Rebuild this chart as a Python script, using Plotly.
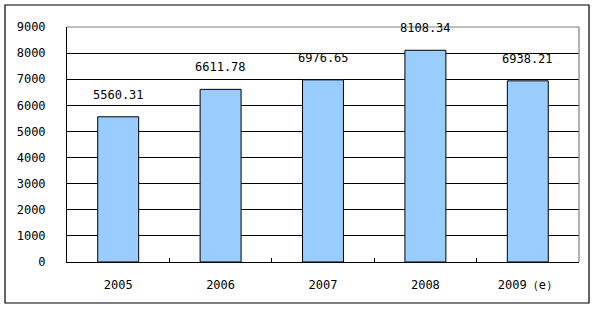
import plotly.graph_objects as go

categories = ["2005", "2006", "2007", "2008", "2009（e）"]
values = [5560.31, 6611.78, 6976.65, 8108.34, 6938.21]
labels = ["5560.31", "6611.78", "6976.65", "8108.34", "6938.21"]
y_ticks = [0, 1000, 2000, 3000, 4000, 5000, 6000, 7000, 8000, 9000]

FONT = "DejaVu Sans Mono"

fig = go.Figure()
fig.add_trace(go.Bar(
    x=categories, y=values,
    marker=dict(color="#99CCFF", line=dict(color="black", width=1)),
    width=0.4,
))

for i, (v, t) in enumerate(zip(values, labels)):
    fig.add_annotation(x=i, y=v, text=t, showarrow=False, yanchor="middle",
                       yshift=22, font=dict(family=FONT, size=12, color="black"))

L, R, T, B = 67, 17, 27, 47
W, H = 596, 309
pw, ph = W - L - R, H - T - B
# outer border
fig.add_shape(type="rect", xref="paper", yref="paper",
              x0=(5 - L) / pw, x1=(589 - L) / pw,
              y0=(H - B - 303) / ph, y1=(H - B - 5) / ph,
              line=dict(color="black", width=1.2), layer="below")
# plot area top and right edges (gray)
fig.add_shape(type="line", xref="paper", yref="paper", x0=0, x1=1, y0=1, y1=1,
              line=dict(color="#808080", width=1.2), layer="above")
fig.add_shape(type="line", xref="paper", yref="paper", x0=1, x1=1, y0=0, y1=1,
              line=dict(color="#808080", width=1.2), layer="above")

fig.update_layout(
    width=W, height=H,
    margin=dict(l=L, r=R, t=T, b=B, pad=0),
    paper_bgcolor="white", plot_bgcolor="white",
    showlegend=False,
    font=dict(family=FONT, size=12, color="black"),
    xaxis=dict(type="category", categoryorder="array", categoryarray=categories,
               range=[-0.5, len(categories) - 0.5],
               showline=True, linecolor="black", linewidth=1,
               ticks="inside", tickson="boundaries", ticklen=4, tickcolor="black",
               showgrid=False, tickfont=dict(family=FONT, size=12), ticklabelstandoff=12),
    yaxis=dict(range=[0, 9000], tickvals=y_ticks, showline=True, linecolor="black",
               linewidth=1, showgrid=True, gridcolor="black", gridwidth=1,
               ticks="", zeroline=False, tickfont=dict(family=FONT, size=12),
               ticklabelstandoff=18),
)

fig.write_html("out.html")
